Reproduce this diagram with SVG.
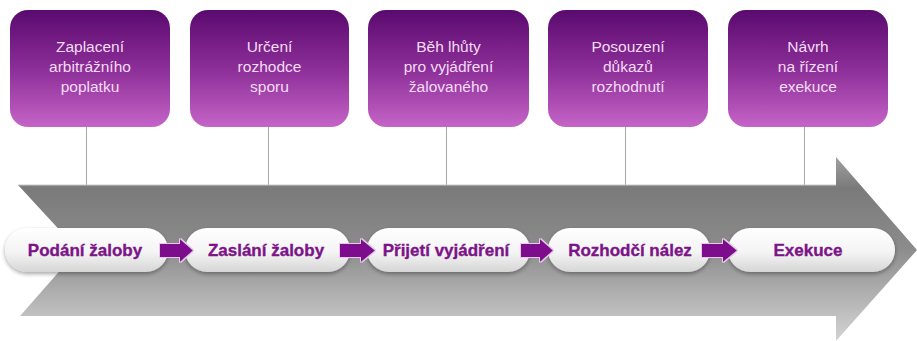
<svg xmlns="http://www.w3.org/2000/svg" width="917" height="341" viewBox="0 0 917 341">
<defs>
<linearGradient id="boxG" x1="0" y1="0" x2="0" y2="1">
<stop offset="0" stop-color="#5a0a6e"/>
<stop offset="0.5" stop-color="#8c2e98"/>
<stop offset="1" stop-color="#c564c7"/>
</linearGradient>
<linearGradient id="arrowG" gradientUnits="userSpaceOnUse" x1="0" y1="157" x2="0" y2="341">
<stop offset="0" stop-color="#a0a0a0"/>
<stop offset="0.17" stop-color="#7a7a7a"/>
<stop offset="0.5" stop-color="#8c8c8c"/>
<stop offset="0.87" stop-color="#c2c2c2"/>
<stop offset="1" stop-color="#d2d2d2"/>
</linearGradient>
<linearGradient id="pillG" x1="0" y1="0" x2="0" y2="1">
<stop offset="0" stop-color="#ffffff"/>
<stop offset="0.55" stop-color="#f4f4f4"/>
<stop offset="1" stop-color="#d6d6d6"/>
</linearGradient>
<filter id="sh" x="-10%" y="-30%" width="120%" height="170%">
<feGaussianBlur in="SourceAlpha" stdDeviation="2"/>
<feOffset dx="0" dy="2" result="b"/>
<feComponentTransfer><feFuncA type="linear" slope="0.35"/></feComponentTransfer>
<feMerge><feMergeNode/><feMergeNode in="SourceGraphic"/></feMerge>
</filter>
<filter id="glow" x="-20%" y="-30%" width="140%" height="160%">
<feMorphology in="SourceAlpha" operator="dilate" radius="1" result="d"/>
<feFlood flood-color="#e8c8ec"/>
<feComposite in2="d" operator="in"/>
<feMerge><feMergeNode/><feMergeNode in="SourceGraphic"/></feMerge>
</filter>
</defs>
<style>
.box{fill:url(#boxG)}
.bt{font-family:"Liberation Sans",Arial,sans-serif;font-size:15.5px;fill:#f4dcf4;text-anchor:middle}
.ln{stroke:#a8a8a8;stroke-width:1}
.pill{fill:url(#pillG);filter:url(#sh)}
.pt{font-family:"Liberation Sans",Arial,sans-serif;font-size:17px;font-weight:bold;fill:#7c1488;stroke:#7c1488;stroke-width:0.35;text-anchor:middle}
.sa{fill:#7d0a8c;filter:url(#glow)}
</style>
<rect width="917" height="341" fill="#ffffff"/>

<g id="connectors">
<line class="ln" x1="86.5" y1="127" x2="86.5" y2="185"/>
<line class="ln" x1="268.5" y1="127" x2="268.5" y2="185"/>
<line class="ln" x1="446.5" y1="127" x2="446.5" y2="185"/>
<line class="ln" x1="625.5" y1="127" x2="625.5" y2="185"/>
<line class="ln" x1="804.5" y1="127" x2="804.5" y2="185"/>
</g>

<g id="big-arrow">
<path d="M18 185 L836 185 L836 157 L917 250 L836 341 L836 316 L20 316 L78 250 Z" fill="url(#arrowG)"/>
<path d="M18 185 L836 185" stroke="#c8c8c8" stroke-width="1" fill="none"/>
</g>

<g id="box1"><rect class="box" x="10" y="10" width="160" height="117" rx="18"/>
<text class="bt" x="90" y="52">Zaplacení</text><text class="bt" x="90" y="72">arbitrážního</text><text class="bt" x="90" y="92">poplatku</text></g>
<g id="box2"><rect class="box" x="190" y="10" width="159" height="117" rx="18"/>
<text class="bt" x="269.5" y="52">Určení</text><text class="bt" x="269.5" y="72">rozhodce</text><text class="bt" x="269.5" y="92">sporu</text></g>
<g id="box3"><rect class="box" x="368" y="10" width="161" height="117" rx="18"/>
<text class="bt" x="448.5" y="52">Běh lhůty</text><text class="bt" x="448.5" y="72">pro vyjádření</text><text class="bt" x="448.5" y="92">žalovaného</text></g>
<g id="box4"><rect class="box" x="548" y="10" width="160" height="117" rx="18"/>
<text class="bt" x="628" y="52">Posouzení</text><text class="bt" x="628" y="72">důkazů</text><text class="bt" x="628" y="92">rozhodnutí</text></g>
<g id="box5"><rect class="box" x="728" y="10" width="160" height="117" rx="18"/>
<text class="bt" x="808" y="52">Návrh</text><text class="bt" x="808" y="72">na řízení</text><text class="bt" x="808" y="92">exekuce</text></g>

<g id="pill1"><rect class="pill" x="5" y="228" width="163" height="44" rx="22"/><text class="pt" x="85" y="256">Podání žaloby</text></g>
<g id="pill2"><rect class="pill" x="185" y="228" width="165" height="44" rx="22"/><text class="pt" x="266" y="256">Zaslání žaloby</text></g>
<g id="pill3"><rect class="pill" x="367" y="228" width="163" height="44" rx="22"/><text class="pt" x="446" y="256">Přijetí vyjádření</text></g>
<g id="pill4"><rect class="pill" x="548" y="228" width="162" height="44" rx="22"/><text class="pt" x="630" y="256">Rozhodčí nález</text></g>
<g id="pill5"><rect class="pill" x="728" y="228" width="167" height="44" rx="22"/><text class="pt" x="808" y="256">Exekuce</text></g>

<g id="step-arrows">
<path class="sa" d="M160 244 L180 244 L180 239 L193 250.5 L180 262 L180 257 L160 257 Z"/>
<path class="sa" d="M340 244 L361 244 L361 239 L375 250.5 L361 262 L361 257 L340 257 Z"/>
<path class="sa" d="M521 244 L540 244 L540 239 L553 250.5 L540 262 L540 257 L521 257 Z"/>
<path class="sa" d="M702 244 L723 244 L723 239 L737 250.5 L723 262 L723 257 L702 257 Z"/>
</g>
</svg>
